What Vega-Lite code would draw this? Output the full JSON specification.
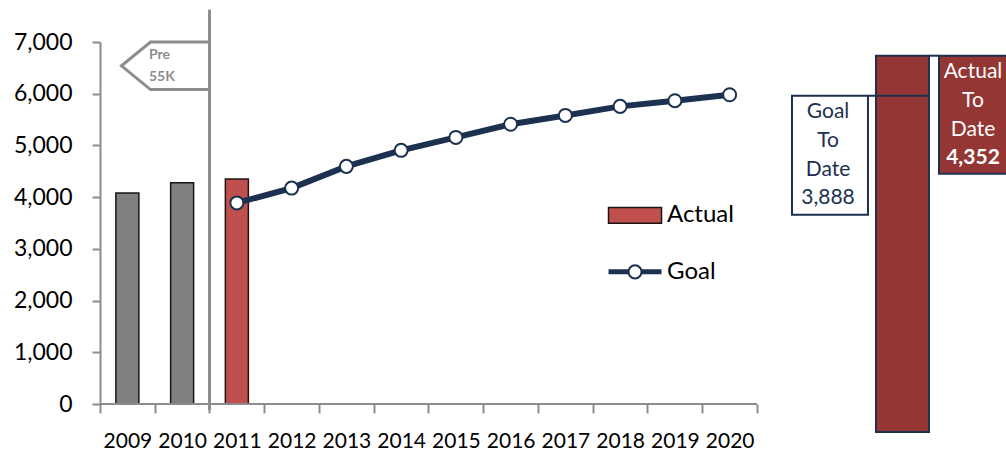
{
  "$schema": "https://vega.github.io/schema/vega-lite/v6.json",
  "background": "white",
  "padding": {"left": 13, "top": 8, "right": 0, "bottom": 0},
  "width": 906,
  "height": 362,
  "datasets": {
    "annual": [
      {"year": 2009, "series": "Pre 55K", "value": 4080},
      {"year": 2010, "series": "Pre 55K", "value": 4280},
      {"year": 2011, "series": "Actual", "value": 4352},
      {"year": 2011, "series": "Goal", "value": 3888},
      {"year": 2012, "series": "Goal", "value": 4175},
      {"year": 2013, "series": "Goal", "value": 4595},
      {"year": 2014, "series": "Goal", "value": 4905},
      {"year": 2015, "series": "Goal", "value": 5155},
      {"year": 2016, "series": "Goal", "value": 5410},
      {"year": 2017, "series": "Goal", "value": 5580},
      {"year": 2018, "series": "Goal", "value": 5755},
      {"year": 2019, "series": "Goal", "value": 5865},
      {"year": 2020, "series": "Goal", "value": 5980}
    ],
    "to_date": [
      {"goal_to_date": 3888, "actual_to_date": 4352}
    ],
    "periods": [
      {"label": "Pre 55K"}
    ],
    "legend_items": [
      {"series": "Actual"},
      {"series": "Goal"}
    ]
  },
  "resolve": {"scale": {"y": "independent"}, "axis": {"y": "independent"}},
  "layer": [
    {
      "data": {"name": "annual"},
      "transform": [{"filter": "datum.series !== 'Goal'"}],
      "mark": {"type": "bar", "width": 23, "stroke": "#1e1414", "strokeWidth": 1.5, "orient": "vertical"},
      "encoding": {
        "x": {
          "field": "year", "type": "quantitative",
          "scale": {"domain": [2008.5, 2025.048], "nice": false, "zero": false, "padding": 0},
          "axis": {
            "title": null, "domain": false,
            "values": [2008.5, 2009.5, 2010.5, 2011.5, 2012.5, 2013.5, 2014.5, 2015.5, 2016.5, 2017.5, 2018.5, 2019.5, 2020.5],
            "labelExpr": "datum.value < 2020 ? format(datum.value + 0.5, 'd') : ''",
            "labelOffset": 27.4, "labelFlush": false, "labelOverlap": false, "labelBound": false,
            "tickColor": "#8c8c8c", "tickWidth": 2, "tickSize": 9,
            "labelFont": "Lato", "labelFontSize": 21, "labelColor": "#000000",
            "labelPadding": 17, "grid": false
          }
        },
        "y": {
          "field": "value", "type": "quantitative",
          "scale": {"domain": [0, 7000], "nice": false},
          "axis": {
            "title": null, "values": [0, 1000, 2000, 3000, 4000, 5000, 6000, 7000],
            "labelExpr": "format(datum.value, ',')",
            "domainColor": "#8c8c8c", "domainWidth": 2,
            "tickColor": "#8c8c8c", "tickWidth": 2, "tickSize": 8,
            "labelFont": "Lato", "labelFontSize": 23, "labelColor": "#000000",
            "labelPadding": 20, "grid": false
          }
        },
        "color": {
          "field": "series", "type": "nominal",
          "scale": {"domain": ["Pre 55K", "Actual"], "range": ["#808080", "#c0504d"]},
          "legend": null
        }
      }
    },
    {
      "data": {"name": "periods"},
      "mark": {"type": "point", "shape": "M-1,0H1", "size": 431649, "filled": false, "stroke": "#8c8c8c", "strokeWidth": 2, "opacity": 1},
      "encoding": {
        "x": {"datum": 2014.5, "type": "quantitative"},
        "y": {"datum": 0, "type": "quantitative", "scale": {"domain": [0, 7000], "nice": false}, "axis": null}
      }
    },
    {
      "data": {"name": "annual"},
      "transform": [{"filter": "datum.series === 'Goal'"}],
      "mark": {"type": "line", "strokeWidth": 6, "color": "#1c3150"},
      "encoding": {
        "x": {"field": "year", "type": "quantitative"},
        "y": {"field": "value", "type": "quantitative", "scale": {"domain": [0, 7000], "nice": false}, "axis": null}
      }
    },
    {
      "data": {"name": "annual"},
      "transform": [{"filter": "datum.series === 'Goal'"}],
      "mark": {"type": "point", "filled": true, "fill": "#ffffff", "stroke": "#1c3150", "strokeWidth": 2, "size": 170, "opacity": 1},
      "encoding": {
        "x": {"field": "year", "type": "quantitative"},
        "y": {"field": "value", "type": "quantitative", "scale": {"domain": [0, 7000], "nice": false}, "axis": null}
      }
    },
    {
      "data": {"name": "periods"},
      "mark": {"type": "rule", "stroke": "#8c8c8c", "strokeWidth": 3},
      "encoding": {
        "x": {"datum": 2010.5, "type": "quantitative"},
        "y": {"datum": 7625, "type": "quantitative", "scale": {"domain": [0, 7000], "nice": false}, "axis": null},
        "y2": {"datum": -116}
      }
    },
    {
      "data": {"name": "periods"},
      "mark": {"type": "point", "shape": "M1,-0.54H-0.34L-1,0L-0.34,0.54H1", "size": 7744, "filled": false, "stroke": "#8c8c8c", "strokeWidth": 3, "opacity": 1},
      "encoding": {
        "x": {"datum": 2009.696, "type": "quantitative"},
        "y": {"datum": 6540, "type": "quantitative", "scale": {"domain": [0, 7000], "nice": false}, "axis": null}
      }
    },
    {
      "data": {"name": "periods"},
      "mark": {"type": "text", "align": "left", "baseline": "top", "dy": 6, "fontSize": 14, "fontWeight": "bold", "color": "#8c8c8c", "lineHeight": 22},
      "encoding": {
        "x": {"datum": 2009.395, "type": "quantitative"},
        "y": {"datum": 7000, "type": "quantitative", "scale": {"domain": [0, 7000], "nice": false}, "axis": null},
        "text": {"value": ["Pre", "55K"]}
      }
    },
    {
      "data": {"name": "legend_items"},
      "transform": [{"filter": "datum.series === 'Actual'"}],
      "mark": {"type": "point", "shape": "M-1,-0.3H1V0.3H-1Z", "size": 2809, "filled": true, "fill": "#c0504d", "stroke": "#1e1414", "strokeWidth": 1.5, "opacity": 1},
      "encoding": {
        "x": {"datum": 2018.272, "type": "quantitative"},
        "y": {"datum": 3648, "type": "quantitative", "scale": {"domain": [0, 7000], "nice": false}, "axis": null}
      }
    },
    {
      "data": {"name": "legend_items"},
      "transform": [{"filter": "datum.series === 'Goal'"}],
      "mark": {"type": "point", "shape": "M-1,0H1", "size": 2809, "filled": false, "stroke": "#1c3150", "strokeWidth": 5, "opacity": 1},
      "encoding": {
        "x": {"datum": 2018.272, "type": "quantitative"},
        "y": {"datum": 2555, "type": "quantitative", "scale": {"domain": [0, 7000], "nice": false}, "axis": null}
      }
    },
    {
      "data": {"name": "legend_items"},
      "transform": [{"filter": "datum.series === 'Goal'"}],
      "mark": {"type": "point", "filled": true, "fill": "#ffffff", "stroke": "#1c3150", "strokeWidth": 2, "size": 170, "opacity": 1},
      "encoding": {
        "x": {"datum": 2018.272, "type": "quantitative"},
        "y": {"datum": 2555, "type": "quantitative", "scale": {"domain": [0, 7000], "nice": false}, "axis": null}
      }
    },
    {
      "data": {"name": "legend_items"},
      "transform": [{"filter": "datum.series === 'Actual'"}],
      "mark": {"type": "text", "align": "left", "baseline": "middle", "fontSize": 24, "color": "#000000"},
      "encoding": {
        "x": {"datum": 2018.856, "type": "quantitative"},
        "y": {"datum": 3648, "type": "quantitative", "scale": {"domain": [0, 7000], "nice": false}, "axis": null},
        "text": {"field": "series"}
      }
    },
    {
      "data": {"name": "legend_items"},
      "transform": [{"filter": "datum.series === 'Goal'"}],
      "mark": {"type": "text", "align": "left", "baseline": "middle", "fontSize": 24, "color": "#000000"},
      "encoding": {
        "x": {"datum": 2018.856, "type": "quantitative"},
        "y": {"datum": 2555, "type": "quantitative", "scale": {"domain": [0, 7000], "nice": false}, "axis": null},
        "text": {"field": "series"}
      }
    },
    {
      "data": {"name": "to_date"},
      "mark": {"type": "point", "shape": "M-1,0H1V3.13H-1Z", "size": 5776, "filled": true, "fill": "#ffffff", "stroke": "#1c3150", "strokeWidth": 2, "opacity": 1},
      "encoding": {
        "x": {"datum": 2021.833, "type": "quantitative"},
        "y": {"field": "goal_to_date", "type": "quantitative", "scale": {"domain": [324.1, 4510.6], "nice": false, "zero": false}, "axis": null}
      }
    },
    {
      "data": {"name": "to_date"},
      "mark": {"type": "bar", "width": 53, "fill": "#943634", "stroke": "#1c3150", "strokeWidth": 2, "orient": "vertical"},
      "encoding": {
        "x": {"datum": 2023.157, "type": "quantitative"},
        "y": {"field": "actual_to_date", "type": "quantitative", "scale": {"domain": [324.1, 4510.6], "nice": false, "zero": false}, "axis": null},
        "y2": {"datum": 0}
      }
    },
    {
      "data": {"name": "to_date"},
      "mark": {"type": "point", "shape": "M-1,0H1", "size": 3721, "filled": false, "stroke": "#1c3150", "strokeWidth": 2, "opacity": 1},
      "encoding": {
        "x": {"datum": 2023.09, "type": "quantitative"},
        "y": {"field": "goal_to_date", "type": "quantitative", "scale": {"domain": [324.1, 4510.6], "nice": false, "zero": false}, "axis": null}
      }
    },
    {
      "data": {"name": "to_date"},
      "mark": {"type": "point", "shape": "M-1,0H1", "size": 100, "filled": false, "stroke": "#1c3150", "strokeWidth": 2, "opacity": 1},
      "encoding": {
        "x": {"datum": 2023.733, "type": "quantitative"},
        "y": {"field": "actual_to_date", "type": "quantitative", "scale": {"domain": [324.1, 4510.6], "nice": false, "zero": false}, "axis": null}
      }
    },
    {
      "data": {"name": "to_date"},
      "mark": {"type": "point", "shape": "M-1,0H1V3.19H-1Z", "size": 5476, "filled": true, "fill": "#943634", "stroke": "#1c3150", "strokeWidth": 2, "opacity": 1, "clip": true},
      "encoding": {
        "x": {"datum": 2024.5, "type": "quantitative"},
        "y": {"field": "actual_to_date", "type": "quantitative", "scale": {"domain": [324.1, 4510.6], "nice": false, "zero": false}, "axis": null}
      }
    },
    {
      "data": {"name": "to_date"},
      "mark": {"type": "text", "align": "center", "baseline": "top", "dy": 5, "fontSize": 21, "lineHeight": 29, "color": "#1c3150"},
      "encoding": {
        "x": {"datum": 2021.797, "type": "quantitative"},
        "y": {"field": "goal_to_date", "type": "quantitative", "scale": {"domain": [324.1, 4510.6], "nice": false, "zero": false}, "axis": null},
        "text": {"value": ["Goal", "To", "Date"]}
      }
    },
    {
      "data": {"name": "to_date"},
      "mark": {"type": "text", "align": "center", "baseline": "middle", "dy": 102, "fontSize": 21, "color": "#1c3150"},
      "encoding": {
        "x": {"datum": 2021.797, "type": "quantitative"},
        "y": {"field": "goal_to_date", "type": "quantitative", "scale": {"domain": [324.1, 4510.6], "nice": false, "zero": false}, "axis": null},
        "text": {"field": "goal_to_date", "type": "quantitative", "format": ","}
      }
    },
    {
      "data": {"name": "to_date"},
      "mark": {"type": "text", "align": "center", "baseline": "top", "dy": 5.5, "fontSize": 21, "lineHeight": 29, "color": "#ffffff"},
      "encoding": {
        "x": {"datum": 2024.445, "type": "quantitative"},
        "y": {"field": "actual_to_date", "type": "quantitative", "scale": {"domain": [324.1, 4510.6], "nice": false, "zero": false}, "axis": null},
        "text": {"value": ["Actual", "To", "Date"]}
      }
    },
    {
      "data": {"name": "to_date"},
      "mark": {"type": "text", "align": "center", "baseline": "middle", "dy": 102, "fontSize": 21, "fontWeight": "bold", "color": "#ffffff"},
      "encoding": {
        "x": {"datum": 2024.445, "type": "quantitative"},
        "y": {"field": "actual_to_date", "type": "quantitative", "scale": {"domain": [324.1, 4510.6], "nice": false, "zero": false}, "axis": null},
        "text": {"field": "actual_to_date", "type": "quantitative", "format": ","}
      }
    }
  ],
  "config": {
    "view": {"stroke": null},
    "font": "Lato"
  }
}
